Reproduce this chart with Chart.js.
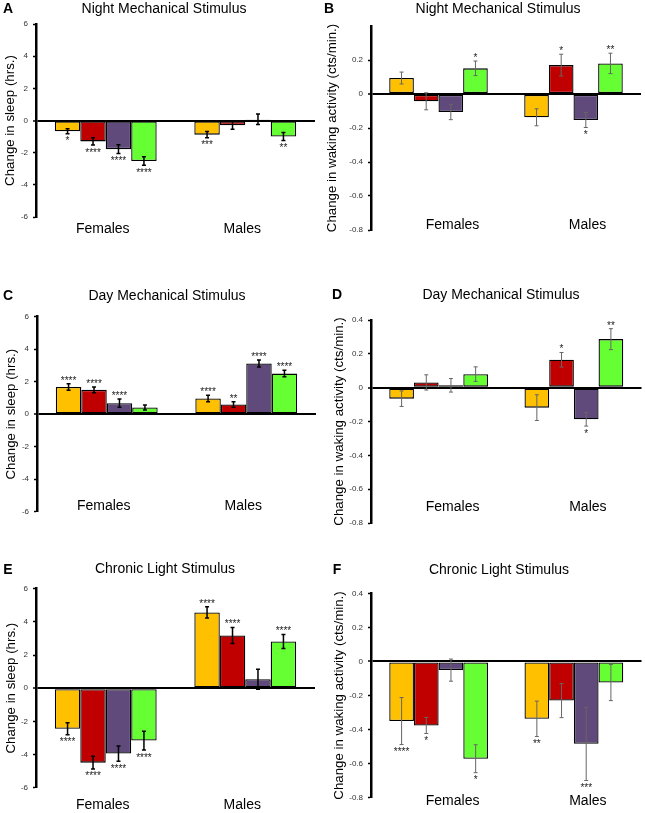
<!DOCTYPE html>
<html>
<head>
<meta charset="utf-8">
<script src="https://cdn.jsdelivr.net/npm/chart.js@4.4.1/dist/chart.umd.min.js"></script>
<style>
  html, body { margin: 0; padding: 0; background: #fff; }
  body { position: relative; width: 645px; height: 813px; overflow: hidden;
         font-family: "Liberation Sans", Arial, sans-serif; }
  canvas { position: absolute; }
  .title { position: absolute; font-size: 14px; white-space: nowrap; transform: translate(-50%, -50%); }
  .letter { position: absolute; font-size: 14px; font-weight: bold; transform: translate(-50%, -50%); }
</style>
</head>
<body>
<script>
// data: values are [F1, F2, F3, F4, M1, M2, M3, M4] (four lines, two sexes)
const categories = ['Females', 'Males'];
const lines = ['Line 1', 'Line 2', 'Line 3', 'Line 4'];

const sleepTicks = [-6, -4, -2, 0, 2, 4, 6];
const activityTicks = [-0.8, -0.6, -0.4, -0.2, 0, 0.2, 0.4];
const nightActivityTicks = [-0.8, -0.6, -0.4, -0.2, 0, 0.2];

const nightSleep = [-0.67, -1.30, -1.78, -2.52, -0.88, -0.29, 0.08, -1.00];
const nightSleepErr = [0.15, 0.23, 0.27, 0.27, 0.20, 0.25, 0.33, 0.25];
const nightSleepSig = ['*', '****', '****', '****', '***', '', '', '**'];

const nightActivity = [0.094, -0.043, -0.106, 0.151, -0.137, 0.170, -0.153, 0.180];
const nightActivityErr = [0.035, 0.050, 0.045, 0.043, 0.050, 0.064, 0.044, 0.060];
const nightActivitySig = ['', '', '', '*', '', '*', '*', '**'];

const daySleep = [1.68, 1.50, 0.68, 0.41, 0.97, 0.60, 3.12, 2.50];
const daySleepErr = [0.20, 0.18, 0.25, 0.15, 0.20, 0.17, 0.22, 0.20];
const daySleepSig = ['****', '****', '****', '', '****', '**', '****', '****'];

const dayActivity = [-0.065, 0.031, 0.014, 0.080, -0.118, 0.165, -0.187, 0.287];
const dayActivityErr = [0.046, 0.045, 0.040, 0.043, 0.076, 0.043, 0.040, 0.062];
const dayActivitySig = ['', '', '', '', '', '*', '*', '**'];

const lightSleep = [-2.45, -4.49, -3.94, -3.16, 4.57, 3.18, 0.54, 2.82];
const lightSleepErr = [0.36, 0.38, 0.46, 0.57, 0.34, 0.48, 0.60, 0.42];
const lightSleepSig = ['****', '****', '****', '****', '****', '****', '', '****'];

const lightActivity = [-0.350, -0.376, -0.051, -0.571, -0.337, -0.230, -0.484, -0.124];
const lightActivityErr = [0.138, 0.047, 0.065, 0.082, 0.104, 0.100, 0.215, 0.106];
const lightActivitySig = ['****', '*', '', '*', '**', '', '***', ''];

// styling
const FONT = '"Liberation Sans", Arial, sans-serif';
const barColors = ['#FFC000', '#C00000', '#604A7B', '#66FF33'];
const sleepTitle = 'Change in sleep (hrs.)';
const activityTitle = 'Change in waking activity (cts/min.)';

const panels = [
  { letter: 'A', title: 'Night Mechanical Stimulus', x: 0, y: 0, w: 322, h: 245,
    top: 24, bottom: 217, left: 36, right: 315, tx: 164, ty: 8, lx: 8, ly: 8,
    yTitle: sleepTitle, yPad: 2.5, labelPad: 4, labelShift: -3,
    min: -6, max: 6, ticks: sleepTicks, values: nightSleep, errors: nightSleepErr, sig: nightSleepSig, sleep: true },
  { letter: 'B', title: 'Night Mechanical Stimulus', x: 320, y: 0, w: 325, h: 250,
    top: 26, bottom: 230, left: 51, right: 321, tx: 498, ty: 8, lx: 329, ly: 8,
    yTitle: activityTitle, yPad: 4, labelPad: -13.4, labelShift: 14,
    min: -0.8, max: 0.4, ticks: nightActivityTicks, values: nightActivity, errors: nightActivityErr, sig: nightActivitySig, sleep: false },
  { letter: 'C', title: 'Day Mechanical Stimulus', x: 0, y: 270, w: 322, h: 262,
    top: 46.7, bottom: 241.7, left: 37, right: 316, tx: 167, ty: 295, lx: 8, ly: 295,
    yTitle: sleepTitle, yPad: 3, labelPad: -14.4, labelShift: -3,
    min: -6, max: 6, ticks: sleepTicks, values: daySleep, errors: daySleepErr, sig: daySleepSig, sleep: true },
  { letter: 'D', title: 'Day Mechanical Stimulus', x: 320, y: 270, w: 325, h: 263,
    top: 50, bottom: 253, left: 51, right: 321.5, tx: 501, ty: 294, lx: 337, ly: 294,
    yTitle: activityTitle, yPad: 11, labelPad: -24.4, labelShift: 14,
    min: -0.8, max: 0.4, ticks: activityTicks, values: dayActivity, errors: dayActivityErr, sig: dayActivitySig, sleep: false },
  { letter: 'E', title: 'Chronic Light Stimulus', x: 0, y: 540, w: 322, h: 273,
    top: 48.7, bottom: 247.7, left: 36, right: 315, tx: 165, ty: 568, lx: 8, ly: 569,
    yTitle: sleepTitle, yPad: 3, labelPad: 8.6, labelShift: -3,
    min: -6, max: 6, ticks: sleepTicks, values: lightSleep, errors: lightSleepErr, sig: lightSleepSig, sleep: true },
  { letter: 'F', title: 'Chronic Light Stimulus', x: 320, y: 540, w: 325, h: 273,
    top: 53.3, bottom: 257.7, left: 51, right: 321.5, tx: 499, ty: 569, lx: 337, ly: 569,
    yTitle: activityTitle, yPad: 11, labelPad: -5.4, labelShift: 14,
    min: -0.8, max: 0.4, ticks: activityTicks, values: lightActivity, errors: lightActivityErr, sig: lightActivitySig, sleep: false }
];

// error bars + significance stars on top of the bars
const errorBars = {
  id: 'errorBars',
  afterDatasetsDraw(chart, args, o) {
    const ctx = chart.ctx;
    const y = chart.scales.y;
    ctx.save();
    chart.data.datasets.forEach((ds, i) => {
      chart.getDatasetMeta(i).data.forEach((bar, j) => {
        const k = j * lines.length + i;
        const v = ds.data[j];
        const e = o.errors[k];
        const top = y.getPixelForValue(v + e);
        const bot = y.getPixelForValue(v - e);
        ctx.strokeStyle = o.color;
        ctx.lineWidth = o.width;
        ctx.beginPath();
        ctx.moveTo(bar.x, top); ctx.lineTo(bar.x, bot);
        ctx.moveTo(bar.x - o.cap, top); ctx.lineTo(bar.x + o.cap, top);
        ctx.moveTo(bar.x - o.cap, bot); ctx.lineTo(bar.x + o.cap, bot);
        ctx.stroke();
        const s = o.sig[k];
        if (s) {
          ctx.fillStyle = '#222';
          ctx.font = '10px ' + FONT;
          ctx.textAlign = 'center';
          ctx.textBaseline = 'middle';
          ctx.fillText(s, bar.x, v >= 0 ? top - 2.8 : bot + 7.7);
        }
      });
    });
    ctx.restore();
  }
};

function addText(cls, text, x, y) {
  const d = document.createElement('div');
  d.className = cls;
  d.textContent = text;
  d.style.left = x + 'px';
  d.style.top = y + 'px';
  document.body.appendChild(d);
}

panels.forEach(p => {
  const cv = document.createElement('canvas');
  cv.width = p.w;
  cv.height = p.h;
  cv.style.left = p.x + 'px';
  cv.style.top = p.y + 'px';
  document.body.appendChild(cv);

  addText('title', p.title, p.tx, p.ty);
  addText('letter', p.letter, p.lx, p.ly);

  const isZero = c => c.tick && c.tick.value === 0;

  new Chart(cv, {
    type: 'bar',
    data: {
      labels: categories,
      datasets: lines.map((name, i) => ({
        label: name,
        data: [p.values[i], p.values[lines.length + i]],
        backgroundColor: barColors[i],
        borderColor: '#000',
        borderWidth: 1.3,
        borderSkipped: false
      }))
    },
    options: {
      responsive: false,
      animation: false,
      devicePixelRatio: 1,
      layout: { padding: { top: p.top, bottom: p.h - p.bottom, left: 0, right: p.w - p.right } },
      datasets: { bar: { categoryPercentage: 0.73, barPercentage: 1 } },
      plugins: {
        legend: { display: false },
        tooltip: { enabled: false },
        errorBars: {
          errors: p.errors, sig: p.sig,
          color: p.sleep ? '#000' : '#666',
          width: p.sleep ? 1.5 : 1,
          cap: 2
        }
      },
      scales: {
        x: {
          // anchored to the bottom of the value range, so labels can sit inside the plot
          position: { y: p.min },
          grid: { display: false, drawTicks: false },
          border: { display: false },
          ticks: {
            font: { family: FONT, size: 14 }, color: '#000',
            padding: p.labelPad, labelOffset: p.labelShift,
            maxRotation: 0, autoSkip: false
          }
        },
        y: {
          min: p.min,
          max: p.max,
          afterBuildTicks: s => { s.ticks = p.ticks.map(v => ({ value: v })); },
          grid: {
            color: c => isZero(c) ? '#000' : 'rgba(0,0,0,0)',
            lineWidth: c => isZero(c) ? 2 : 1,
            tickColor: '#000', tickWidth: 1.5, tickLength: 3
          },
          border: { color: '#000', width: 2.5 },
          ticks: {
            font: { family: FONT, size: 8 }, color: '#333', padding: 5,
            callback: v => String(v)
          },
          title: {
            display: true, text: p.yTitle, color: '#000',
            font: { family: FONT, size: 13.3 },
            padding: { top: p.yPad, bottom: 0 }
          },
          afterFit: s => { s.width = p.left; }
        }
      }
    },
    plugins: [errorBars]
  });
});
</script>
</body>
</html>
